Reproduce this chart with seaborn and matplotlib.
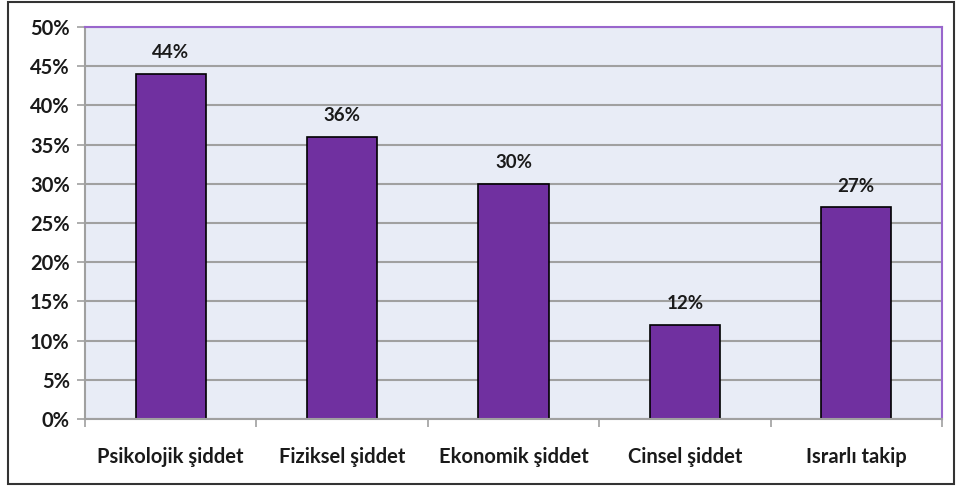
import seaborn as sb
import matplotlib.pyplot as plt
import pandas as pd
from matplotlib.patches import Rectangle
from matplotlib.ticker import FuncFormatter

kategoriler = ["Psikolojik şiddet", "Fiziksel şiddet", "Ekonomik şiddet",
               "Cinsel şiddet", "Israrlı takip"]
oranlar = [44, 36, 30, 12, 27]
y_etiketleri = [0, 5, 10, 15, 20, 25, 30, 35, 40, 45, 50]

df = pd.DataFrame({"Kategori": kategoriler, "Oran": oranlar})

sb.set_style("white")
plt.rcParams["font.family"] = ["Lato", "DejaVu Sans"]

fig = plt.figure(figsize=(9.58, 4.88), dpi=100)
ax = fig.add_axes([85 / 958, 1 - 419 / 488, (942 - 85) / 958, (419 - 27) / 488])

ax.set_facecolor("#E8ECF6")
ax.set_axisbelow(True)
ax.yaxis.grid(True, color="#A0A0A0", linewidth=1.5)

sb.barplot(data=df, x="Kategori", y="Oran", color="#7030A0",
           width=0.41, edgecolor="black", linewidth=1.2, saturation=1, ax=ax)

# değer etiketleri
for i, v in enumerate(oranlar):
    ax.text(i, v + 1.6, f"{v}%", ha="center", va="bottom",
            fontsize=13.5, fontweight="bold", color="#1a1a1a")

ax.set_ylim(0, 50)
ax.set_xlim(-0.5, len(kategoriler) - 0.5)
ax.set_yticks(y_etiketleri)
ax.yaxis.set_major_formatter(FuncFormatter(lambda v, p: f"{int(v)}%"))
ax.set_xlabel("")
ax.set_ylabel("")

ax.set_xticks([i + 0.5 for i in range(-1, len(kategoriler))], minor=False)
ax.set_xticklabels([])
ax.set_xticks(range(len(kategoriler)), minor=True)
ax.set_xticklabels(kategoriler, minor=True)
ax.tick_params(axis="x", which="major", length=6, color="#A0A0A0", width=1.2,
               direction="out", bottom=True)
ax.tick_params(axis="x", which="minor", length=0, pad=20, labelsize=14.5)
ax.tick_params(axis="y", length=6, color="#A0A0A0", width=1.2, direction="out",
               left=True, labelsize=14.5, pad=5)
for lbl in ax.get_xticklabels(minor=True) + ax.get_yticklabels():
    lbl.set_fontweight("bold")
    lbl.set_color("#1a1a1a")

for s in ["left", "bottom"]:
    ax.spines[s].set_color("#A0A0A0")
    ax.spines[s].set_linewidth(1.5)
for s in ["top", "right"]:
    ax.spines[s].set_color("#9966CC")
    ax.spines[s].set_linewidth(1.5)

fig.patches.append(Rectangle((8 / 958, 4 / 488), 946 / 958, 482 / 488,
                             transform=fig.transFigure, fill=False,
                             edgecolor="#333333", linewidth=1.5))

fig.savefig("out.png", dpi=100)
